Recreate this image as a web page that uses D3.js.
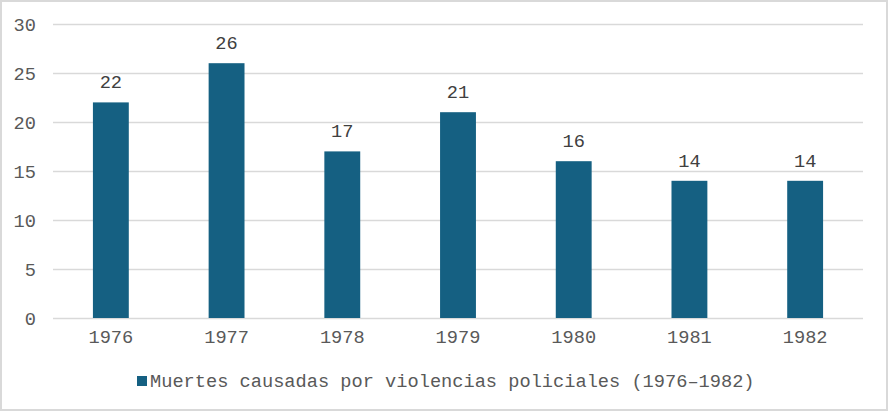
<!DOCTYPE html>
<html><head><meta charset="utf-8">
<script src="https://cdn.jsdelivr.net/npm/d3@7"></script>
<style>html,body{margin:0;padding:0;background:#fff;}svg{display:block;}</style>
</head><body>
<svg id="chart" width="888" height="411"></svg>
<script>
const categories = ["1976","1977","1978","1979","1980","1981","1982"];
const values = [22, 26, 17, 21, 16, 14, 14];
const yTicks = [0, 5, 10, 15, 20, 25, 30];
const seriesName = "Muertes causadas por violencias policiales (1976–1982)";

const W = 888, H = 411;
const font = "'Liberation Mono', 'Courier New', monospace";
const fs = "18.67px";
const svg = d3.select("#chart");

svg.append("rect").attr("x", 1).attr("y", 1).attr("width", W - 2).attr("height", H - 2)
  .attr("fill", "#fff").attr("stroke", "#d9d9d9").attr("stroke-width", 2);

const x = d3.scaleBand().domain(categories).range([53, 863]).paddingInner(0.69).paddingOuter(0.345);
const y = d3.scaleLinear().domain([0, 30]).range([318, 24]);

const gy = svg.append("g").attr("transform", "translate(53,0)")
  .call(d3.axisLeft(y).tickValues(yTicks).tickSize(-(863 - 53)).tickPadding(17));
gy.select(".domain").remove();
gy.selectAll("line").attr("stroke", "#d9d9d9").attr("stroke-width", 1.5);
gy.selectAll("text").attr("font-family", font).attr("font-size", fs).attr("fill", "#595959").attr("dy", "0.34em");

const gx = svg.append("g").attr("transform", "translate(0,318)")
  .call(d3.axisBottom(x).tickSize(0).tickPadding(12));
gx.select(".domain").remove();
gx.selectAll("text").attr("font-family", font).attr("font-size", fs).attr("fill", "#595959");

svg.append("g").selectAll("rect").data(values).join("rect")
  .attr("x", (d, i) => x(categories[i]))
  .attr("y", d => y(d))
  .attr("width", x.bandwidth())
  .attr("height", d => y(0) - y(d))
  .attr("fill", "#156082");

svg.append("g").selectAll("text").data(values).join("text")
  .attr("x", (d, i) => x(categories[i]) + x.bandwidth() / 2)
  .attr("y", d => y(d) - 14)
  .attr("text-anchor", "middle")
  .attr("font-family", font).attr("font-size", fs).attr("fill", "#404040")
  .text(d => d);

const lg = svg.append("g");
lg.append("rect").attr("x", 137).attr("y", 376).attr("width", 10).attr("height", 10).attr("fill", "#156082");
lg.append("text").attr("x", 150).attr("y", 387)
  .attr("font-family", font).attr("font-size", fs).attr("fill", "#595959")
  .text(seriesName);
</script>
</body></html>
